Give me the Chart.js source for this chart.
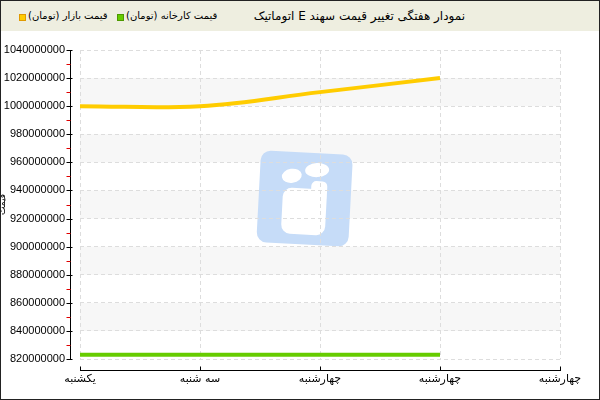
<!DOCTYPE html>
<html>
<head>
<meta charset="utf-8">
<script src="https://cdn.jsdelivr.net/npm/chart.js@4"></script>
<style>
  body { margin: 0; background: #fff; }
  #wrap { position: relative; width: 600px; height: 400px; overflow: hidden; }
  #c { position: absolute; left: 0; top: 0; }
  #head { position: absolute; left: 0; top: 0; width: 600px; height: 31px; background: #eeeee0;
          font: 12px "DejaVu Sans", sans-serif; color: #000; }
  #head span { position: absolute; top: 9px; white-space: nowrap; direction: rtl; }
  #head span.leg { font-size: 10px; top: 10px; }
  #head i { position: absolute; top: 14px; width: 5px; height: 5px; border: 1px solid; }
  #frame { position: absolute; left: 0; top: 0; width: 598px; height: 398px; border: 1px solid #222; pointer-events: none; }
</style>
</head>
<body>
<div id="wrap">
  <canvas id="c" width="600" height="400"></canvas>
  <div id="head"></div>
  <div id="frame"></div>
</div>
<script>
// chart data
var title = "نمودار هفتگی تغییر قیمت سهند E اتوماتیک";
var yTitle = "قیمت";
var days = ["یکشنبه", "سه شنبه", "چهارشنبه", "چهارشنبه", "چهارشنبه"];
var marketPrice = [1000000000, 1000000000, 1010000000, 1020000000, null];
var factoryPrice = [823000000, 823000000, 823000000, 823000000, null];
var yMin = 820000000, yMax = 1040000000, yStep = 20000000;

var seriesNames = ["قیمت بازار (تومان)", "قیمت کارخانه (تومان)"];
var seriesColors = ["#ffcc00", "#66cc00"];
var seriesEdges = ["#e09a00", "#4d9900"];

// header: title + legend
var head = document.getElementById("head");
var t = document.createElement("span");
t.textContent = title;
t.style.right = "135px";
head.appendChild(t);
var boxLeft = [19, 117];
seriesNames.forEach(function (name, i) {
    var b = document.createElement("i");
    b.style.left = boxLeft[i] + "px";
    b.style.background = seriesColors[i];
    b.style.borderColor = seriesEdges[i];
    head.appendChild(b);
    var s = document.createElement("span");
    s.className = "leg";
    s.textContent = name;
    s.style.left = (boxLeft[i] + 9) + "px";
    head.appendChild(s);
});

// alternating bands + watermark, drawn under the grid
var backdrop = {
    id: "backdrop",
    beforeDraw: function (chart) {
        var ctx = chart.ctx, a = chart.chartArea, y = chart.scales.y;
        var ticks = y.ticks;
        ctx.save();
        ctx.fillStyle = "#f7f7f7";
        for (var i = 1; i < ticks.length - 1; i += 2) {
            var y1 = y.getPixelForValue(ticks[i].value);
            var y2 = y.getPixelForValue(ticks[i + 1].value);
            ctx.fillRect(a.left, y2, a.right - a.left, y1 - y2);
        }
        // logo watermark
        var cx = a.left + (a.right - a.left) * 0.468, cy = (a.top + a.bottom) / 2 - 6;
        ctx.translate(cx, cy);
        ctx.rotate(3 * Math.PI / 180);
        ctx.fillStyle = "#c6dcf8";
        ctx.beginPath();
        ctx.roundRect(-46, -46, 92, 92, 10);
        ctx.fill();
        ctx.fillStyle = "#fff";
        ctx.beginPath();
        ctx.ellipse(-14, -22, 10, 7, -0.2, 0, Math.PI * 2);
        ctx.fill();
        ctx.beginPath();
        ctx.ellipse(11, -29, 12, 7, -0.1, 0, Math.PI * 2);
        ctx.fill();
        ctx.beginPath();
        ctx.roundRect(-22, -10, 44, 46, 9);
        ctx.fill();
        ctx.beginPath();
        ctx.roundRect(6, -18, 16, 20, 5);
        ctx.fill();
        ctx.restore();
    }
};

// axis lines sit a few pixels off the plot, like the original
var axes = {
    id: "axes",
    afterDraw: function (chart) {
        var ctx = chart.ctx, a = chart.chartArea, x = chart.scales.x, y = chart.scales.y;
        ctx.save();
        ctx.lineWidth = 1;
        ctx.strokeStyle = "#000";
        var ax = a.left - 9.5;
        ctx.beginPath();
        ctx.moveTo(ax, y.getPixelForValue(yMax));
        ctx.lineTo(ax, y.getPixelForValue(yMin) + 1);
        y.ticks.forEach(function (tk) {
            var p = Math.round(y.getPixelForValue(tk.value)) + 0.5;
            ctx.moveTo(ax - 4, p);
            ctx.lineTo(ax + 2, p);
        });
        ctx.stroke();
        ctx.strokeStyle = "#e00000";
        ctx.beginPath();
        for (var v = yMin + yStep / 2; v < yMax; v += yStep) {
            var p = Math.round(y.getPixelForValue(v)) + 0.5;
            ctx.moveTo(ax - 4, p);
            ctx.lineTo(ax, p);
        }
        ctx.stroke();
        var ay = a.bottom + 11.5;
        ctx.strokeStyle = "#000";
        ctx.beginPath();
        ctx.moveTo(x.getPixelForValue(0), ay);
        ctx.lineTo(x.getPixelForValue(days.length - 1) + 1, ay);
        days.forEach(function (d, i) {
            var p = Math.round(x.getPixelForValue(i)) + 0.5;
            ctx.moveTo(p, ay);
            ctx.lineTo(p, ay - 4);
        });
        ctx.stroke();
        ctx.restore();
    }
};

new Chart("c", {
    type: "line",
    data: {
        labels: days,
        datasets: [
            {
                label: seriesNames[0],
                data: marketPrice,
                borderColor: seriesColors[0],
                borderWidth: 4,
                pointRadius: 0,
                tension: 0.4
            },
            {
                label: seriesNames[1],
                data: factoryPrice,
                borderColor: seriesColors[1],
                borderWidth: 4,
                pointRadius: 0,
                tension: 0
            }
        ]
    },
    options: {
        responsive: false,
        animation: false,
        devicePixelRatio: 1,
        layout: { padding: { top: 50, right: 40, left: 0, bottom: 0 } },
        plugins: { legend: { display: false }, tooltip: { enabled: false } },
        scales: {
            x: {
                offset: false,
                grid: { color: "#dddddd", drawTicks: false },
                border: { display: false, dash: [4, 3] },
                ticks: {
                    autoSkip: false, maxRotation: 0, padding: 14, color: "#000",
                    font: { family: "DejaVu Sans", size: 11 }
                },
                afterFit: function (s) { s.height = 41; }
            },
            y: {
                min: yMin,
                max: yMax,
                grid: { color: "#dddddd", drawTicks: false },
                border: { display: false, dash: [4, 3] },
                ticks: {
                    stepSize: yStep, padding: 15, color: "#000",
                    font: { family: "Liberation Sans", size: 11 },
                    callback: function (v) { return String(v); }
                },
                title: {
                    display: true, text: yTitle, color: "#000",
                    font: { family: "DejaVu Sans", size: 9 },
                    padding: { top: -3, bottom: 0 }
                },
                afterFit: function (s) { s.width = 80; }
            }
        }
    },
    plugins: [backdrop, axes]
});
</script>
</body>
</html>
